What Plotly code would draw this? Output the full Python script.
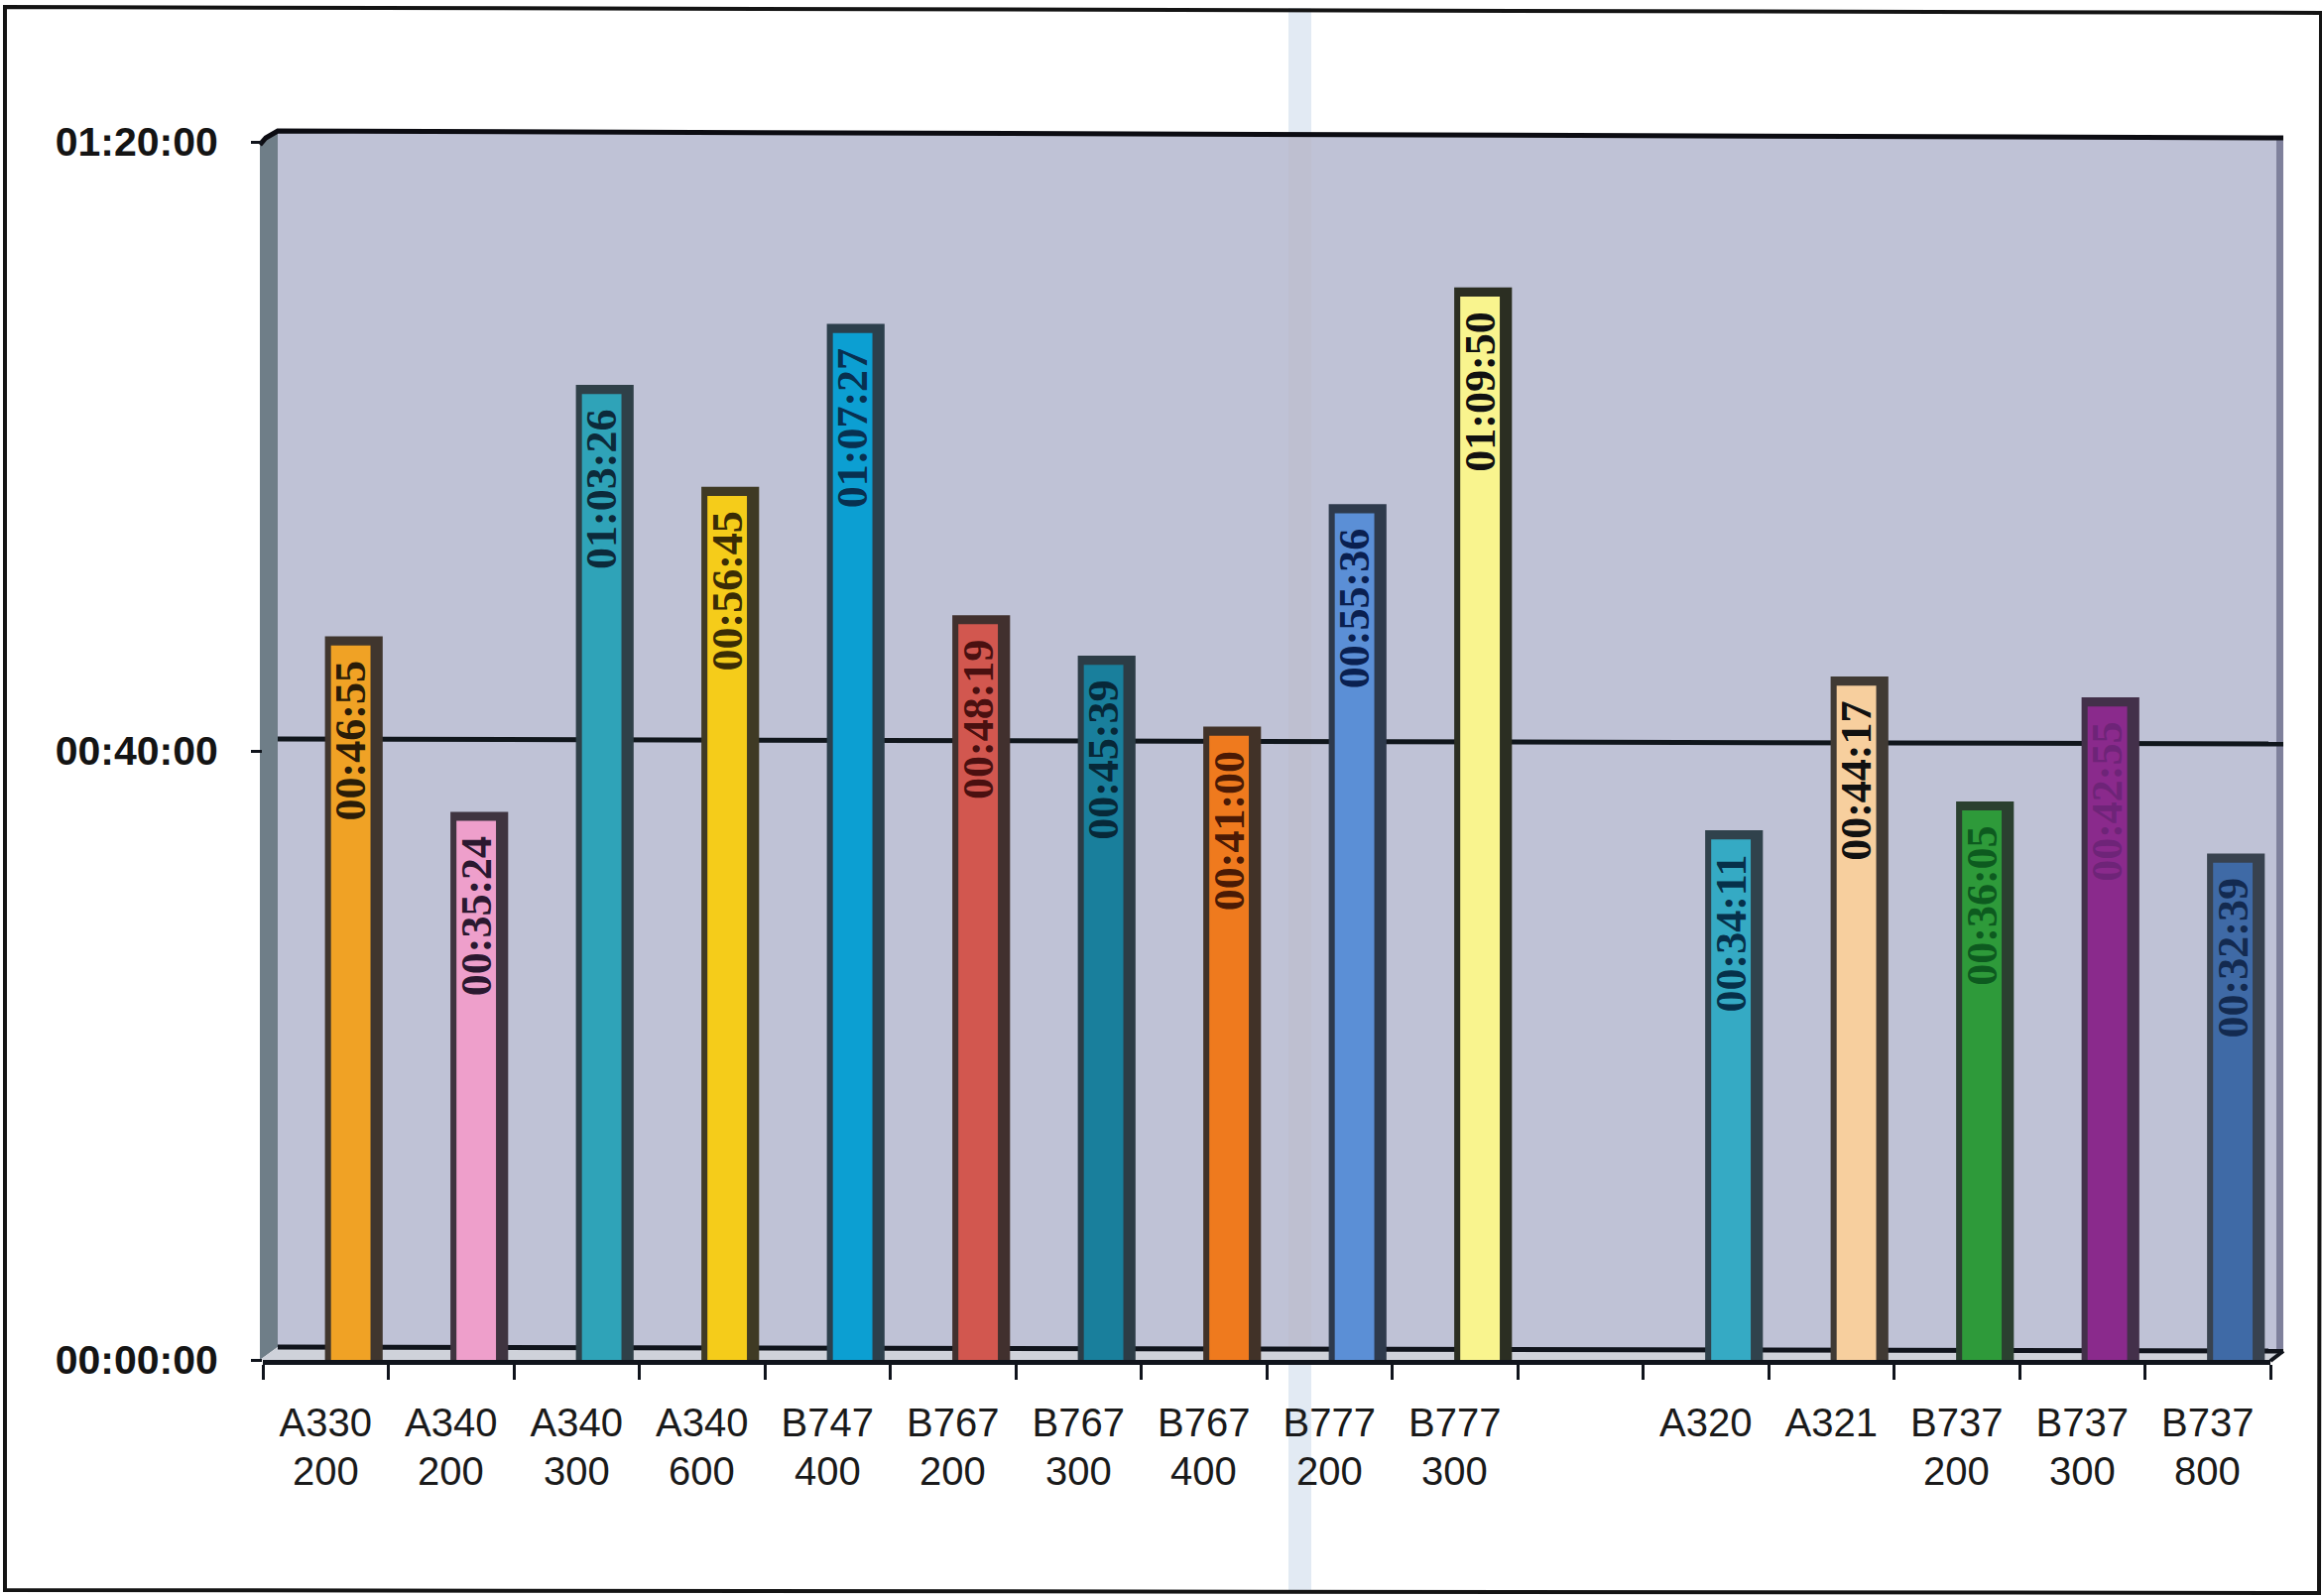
import plotly.graph_objects as go

# ---- data ----
CATEGORIES = ["A330 200", "A340 200", "A340 300", "A340 600", "B747 400", "B767 200", "B767 300",
              "B767 400", "B777 200", "B777 300", "A320", "A321", "B737 200", "B737 300", "B737 800"]
LINE1 = ["A330", "A340", "A340", "A340", "B747", "B767", "B767", "B767", "B777", "B777",
         "A320", "A321", "B737", "B737", "B737"]
LINE2 = ["200", "200", "300", "600", "400", "200", "300", "400", "200", "300",
         "", "", "200", "300", "800"]
DURATIONS = ["00:46:55", "00:35:24", "01:03:26", "00:56:45", "01:07:27", "00:48:19", "00:45:39",
             "00:41:00", "00:55:36", "01:09:50", "00:34:11", "00:44:17", "00:36:05", "00:42:55", "00:32:39"]
Y_TICKS = [0, 40, 80]
Y_TICK_LABELS = ["00:00:00", "00:40:00", "01:20:00"]

# ---- styles ----
FACE = ["#f0a225", "#ee9fcb", "#2fa3b8", "#f5cc1a", "#0c9fd2", "#d2574f", "#197f9c", "#ef7a1e",
        "#5b8fd6", "#f9f48e", "#35aac4", "#f7cf9e", "#2e9a3a", "#8a2a8c", "#3f6aa6"]
SIDE = ["#40362e", "#3f3440", "#2f4048", "#3f3a24", "#2c3f4c", "#41302e", "#2c3c46", "#413228",
        "#2e3a4c", "#2b2e22", "#30424c", "#403a34", "#2b4030", "#43304a", "#38424f"]
INK = ["#2a1c08", "#2b1830", "#0c2a3a", "#3a2c05", "#083050", "#4a1010", "#072838", "#4a1a05",
       "#0a2050", "#111111", "#06304a", "#111111", "#0d5a1f", "#6e2478", "#132a50"]
WALL = "#bfc2d6"

W, H = 2341, 1609
L, R, T, B = 265, 2289, 143, 1371


def minutes(s):
    h, m, sec = (int(p) for p in s.split(":"))
    return h * 60 + m + sec / 60


values = [minutes(d) for d in DURATIONS]
gap = " "
cat_axis = CATEGORIES[:10] + [gap] + CATEGORIES[10:]
tick_text = LINE1[:10] + [""] + LINE1[10:]

fig = go.Figure()
# dark side and top of each column
fig.add_trace(go.Bar(x=CATEGORIES, y=[v + 0.6 for v in values], marker=dict(color=SIDE, line_width=0),
                     offset=-0.005, width=0.46, hoverinfo="skip", showlegend=False))
# front face
fig.add_trace(go.Bar(x=CATEGORIES, y=values, marker=dict(color=FACE, line_width=0),
                     offset=0.043, width=0.315, showlegend=False))
# rotated duration, set a little below the top of the face
fig.add_trace(go.Bar(x=CATEGORIES, y=[v - 0.8 for v in values],
                     marker=dict(color="rgba(0,0,0,0)", line_width=0),
                     offset=0.043, width=0.315, hoverinfo="skip", showlegend=False,
                     text=DURATIONS, textposition="inside", textangle=-90, insidetextanchor="end",
                     constraintext="none", cliponaxis=False,
                     insidetextfont=dict(family="Liberation Serif", size=44, color=INK, weight="bold")))


def px(x):
    return (x - L) / (R - L)


def py(y):
    return (B - y) / (B - T)


def path(points, close=True):
    d = " ".join(("M" if i == 0 else "L") + f" {px(x):.5f} {py(y):.5f}" for i, (x, y) in enumerate(points))
    return d + (" Z" if close else "")


def deco(points, fill=None, line=None, width=0, close=True):
    return dict(type="path", xref="paper", yref="paper", layer="below", path=path(points, close),
                fillcolor=fill if fill else "rgba(0,0,0,0)",
                line=dict(color=line if line else "rgba(0,0,0,0)", width=width))


shapes = [
    deco([(280, 133), (2302, 139), (2302, 1362), (280, 1358)], fill=WALL),
    deco([(262, 146), (280, 133), (280, 1358), (262, 1371)], fill="#6f7e88"),
    deco([(280, 1358), (2302, 1362), (2289, 1372), (262, 1371)], fill="#cfd2da"),
    deco([(2295, 139), (2302, 139), (2302, 1362), (2295, 1361)], fill="#7f819c"),
    deco([(1299, 8), (1322, 8), (1322, 134), (1299, 134)], fill="rgba(190,208,228,0.45)"),
    deco([(1299, 1372), (1322, 1372), (1322, 1606), (1299, 1606)], fill="rgba(190,208,228,0.45)"),
    deco([(1299, 136), (1322, 136), (1322, 1360), (1299, 1360)], fill="rgba(190,185,195,0.3)"),
    deco([(262, 146), (268, 139), (280, 132), (2302, 139)], line="#0c0c12", width=5, close=False),
    deco([(280, 745), (2302, 750)], line="#10161c", width=5, close=False),
    deco([(280, 1358), (2302, 1362)], line="#10141c", width=5, close=False),
    deco([(2302, 1362), (2289, 1372)], line="#10141c", width=4, close=False),
    deco([(5, 7), (2340, 13), (2338, 1606), (5, 1603)], line="#141414", width=4),
]

annotations = [
    dict(x=c, xref="x", y=0, yref="y", yshift=-112, text=t, showarrow=False, yanchor="middle",
         font=dict(family="Liberation Sans", size=40, color="#1a1a1a"))
    for c, t in zip(CATEGORIES, LINE2) if t
]

fig.update_layout(
    width=W, height=H, autosize=False,
    margin=dict(l=L, r=W - R, t=T, b=H - B, pad=0),
    paper_bgcolor="white", plot_bgcolor="rgba(0,0,0,0)",
    barmode="overlay", showlegend=False,
    shapes=shapes, annotations=annotations,
    xaxis=dict(type="category", categoryorder="array", categoryarray=cat_axis, range=[-0.5, 15.5],
               tickmode="array", tickvals=cat_axis, ticktext=tick_text, tickson="boundaries",
               ticks="outside", ticklen=15, tickwidth=3, tickcolor="#10141c",
               showline=True, linecolor="#10141c", linewidth=5, showgrid=False, zeroline=False,
               ticklabelstandoff=24,
               tickfont=dict(family="Liberation Sans", size=40, color="#1a1a1a")),
    yaxis=dict(range=[0, 80], tickmode="array", tickvals=Y_TICKS, ticktext=Y_TICK_LABELS,
               ticks="outside", ticklen=11, tickwidth=3, tickcolor="#10141c",
               showline=False, showgrid=False, zeroline=False, ticklabelstandoff=25,
               tickfont=dict(family="Liberation Sans", size=41, color="#141414", weight="bold")),
)

fig.write_html("out.html", config=dict(displayModeBar=False),
               post_script="document.body.style.margin='0';")
